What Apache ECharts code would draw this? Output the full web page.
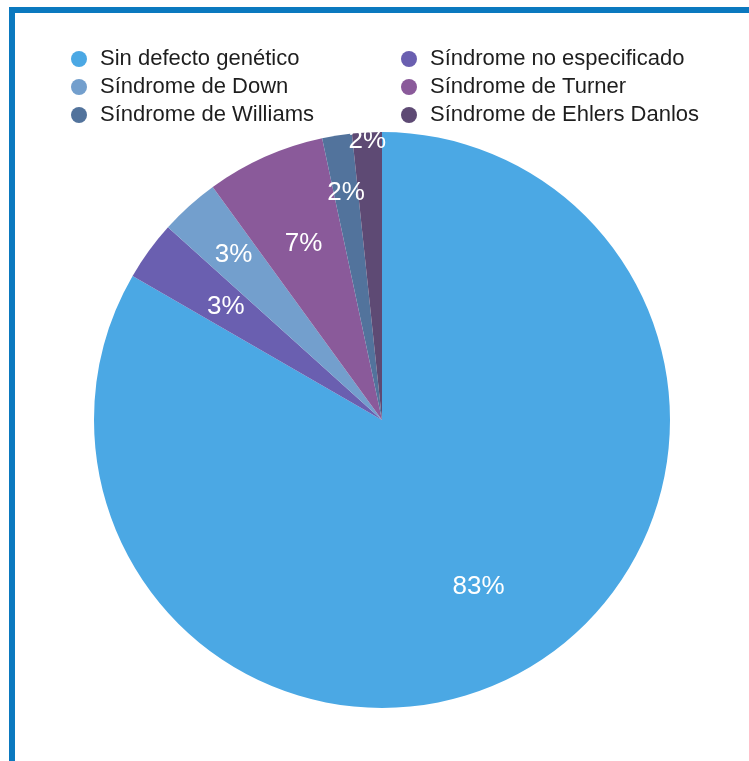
<!DOCTYPE html>
<html>
<head>
<meta charset="utf-8">
<script src="https://cdn.jsdelivr.net/npm/echarts@6/dist/echarts.min.js"></script>
<style>
  html, body { margin: 0; padding: 0; background: #ffffff; }
  #chart { width: 749px; height: 761px; }
  /* blue frame along the top and left edges */
  .frame {
    position: absolute; left: 9px; top: 7px; right: 0; bottom: 0;
    border-top: 6px solid #0b79bf; border-left: 6px solid #0b79bf;
    pointer-events: none;
  }
</style>
</head>
<body>
<div id="chart"></div>
<div class="frame"></div>
<script>
// Diagnóstico genético de los casos
const categories = [
  'Sin defecto genético',
  'Síndrome no especificado',
  'Síndrome de Down',
  'Síndrome de Turner',
  'Síndrome de Williams',
  'Síndrome de Ehlers Danlos'
];
const cases = [50, 2, 2, 4, 1, 1];

const sliceColors = ['#4ba8e4', '#6a5fb0', '#739fcd', '#8a5a9a', '#52739c', '#5e4a74'];
// how far out (fraction of the radius) each percentage label sits
const labelRadiusRatio = [0.67, 0.67, 0.77, 0.67, 0.80, 0.97];
// legend columns (indices into categories)
const legendLeftColumn = [0, 2, 4];
const legendRightColumn = [1, 3, 5];

const PIE_CX = 382, PIE_CY = 420, PIE_R = 288;
const FONT = '"Liberation Sans", Arial, Helvetica, sans-serif';

const total = cases.reduce((a, b) => a + b, 0);

function legendFor(indices, left) {
  return {
    orient: 'vertical',
    left: left,
    top: 48,
    padding: 0,
    icon: 'circle',
    itemWidth: 16,
    itemHeight: 16,
    itemGap: 6,
    selectedMode: false,
    data: indices.map(i => categories[i]),
    textStyle: {
      fontFamily: FONT,
      fontSize: 22,
      lineHeight: 20,
      color: '#1e1e1e',
      padding: [0, 0, 0, 8]
    }
  };
}

const chart = echarts.init(document.getElementById('chart'), null, { renderer: 'canvas' });
chart.setOption({
  backgroundColor: '#ffffff',
  animation: false,
  legend: [legendFor(legendLeftColumn, 71), legendFor(legendRightColumn, 401)],
  series: [{
    type: 'pie',
    center: [PIE_CX, PIE_CY],
    radius: PIE_R,
    startAngle: 90,
    clockwise: true,
    percentPrecision: 0,
    avoidLabelOverlap: false,
    emphasis: { disabled: true },
    itemStyle: { borderWidth: 0 },
    label: {
      show: true,
      position: 'inside',
      formatter: '{d}%',
      fontFamily: FONT,
      fontSize: 26,
      color: '#ffffff'
    },
    labelLine: { show: false },
    labelLayout: function (p) {
      const i = p.dataIndex;
      let before = 0;
      for (let j = 0; j < i; j++) before += cases[j];
      const mid = (before + cases[i] / 2) / total * 2 * Math.PI;
      const r = PIE_R * labelRadiusRatio[i];
      return {
        x: PIE_CX + r * Math.sin(mid),
        y: PIE_CY - r * Math.cos(mid),
        align: 'center',
        verticalAlign: 'middle'
      };
    },
    data: categories.map((name, i) => ({
      name: name,
      value: cases[i],
      itemStyle: { color: sliceColors[i] }
    }))
  }]
});
</script>
</body>
</html>
